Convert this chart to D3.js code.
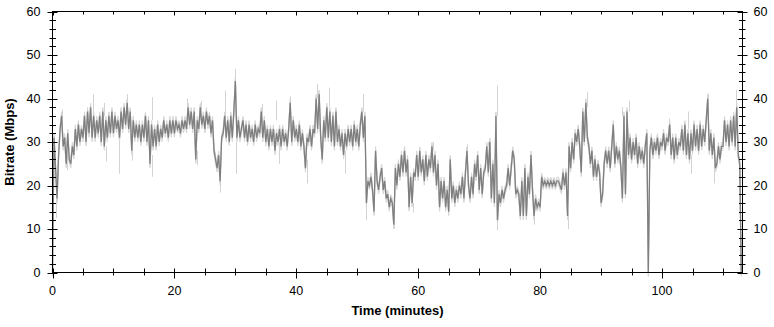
<!DOCTYPE html>
<html>
<head>
<meta charset="utf-8">
<script src="https://cdn.jsdelivr.net/npm/d3@7"></script>
<style>
  body { margin: 0; background: #fff; }
  text { font-family: "Liberation Sans", Arial, sans-serif; }
</style>
</head>
<body>
<svg id="chart" width="774" height="327"></svg>
<script>
// bitrate samples, one every 0.25 minute (Mbps), 4 per row = 1 minute
const STEP = 0.25;
const rate = [
  0, 31, 24, 17,   27, 33, 36, 29,   31, 25, 32, 26,   25, 29, 27, 33,
  29, 34, 30, 33,  31, 36, 30, 37,   32, 38, 31, 36,   31, 35, 32, 36,
  30, 37, 29, 35,  31, 36, 32, 37,   32, 36, 33, 35,   31, 37, 33, 38,
  34, 39, 33, 37,  28, 35, 31, 34,   31, 34, 30, 34,   31, 36, 30, 35,
  25, 34, 29, 33,  29, 34, 30, 33,   31, 35, 32, 34,   31, 35, 32, 35,
  32, 35, 33, 34,  32, 35, 33, 35,   33, 38, 34, 37,   33, 37, 26, 35,
  33, 38, 34, 36,  33, 37, 34, 36,   32, 35, 28, 26,   24, 27, 21, 31,
  32, 36, 31, 35,  30, 36, 31, 37,   44, 31, 35, 31,   33, 35, 31, 34,
  30, 34, 31, 33,  30, 34, 31, 33,   32, 37, 31, 35,   30, 33, 29, 33,
  30, 33, 28, 32,  30, 33, 29, 33,   30, 32, 29, 33,   39, 30, 35, 31,
  33, 30, 34, 29,  32, 29, 24, 31,   30, 33, 29, 33,   32, 40, 33, 41,
  31, 26, 35, 31,  38, 31, 37, 30,   36, 29, 37, 30,   33, 29, 32, 27,
  32, 29, 33, 30,  33, 29, 34, 30,   33, 29, 34, 37,   31, 36, 16, 21,
  20, 22, 19, 14,  28, 21, 19, 22,   24, 19, 21, 17,   18, 15, 17, 16,
  11, 24, 20, 25,  22, 27, 23, 28,   23, 26, 15, 22,   16, 23, 22, 27,
  22, 28, 23, 26,  21, 27, 22, 26,   24, 29, 23, 27,   20, 25, 15, 21,
  17, 21, 15, 19,  14, 26, 17, 20,   16, 19, 17, 20,   18, 22, 17, 23,
  28, 20, 17, 22,  18, 25, 22, 27,   19, 24, 18, 23,   24, 29, 23, 30,
  17, 25, 16, 36,  12, 18, 16, 19,   17, 19, 20, 24,   20, 24, 28, 26,
  18, 19, 18, 13,  21, 13, 24, 13,   22, 18, 27, 19,   13, 17, 15, 16,
  15, 22, 20, 21,  20, 21, 20, 21,   20, 21, 20, 21,   21, 20, 19, 23,
  20, 23, 13, 29,  24, 30, 26, 32,   30, 33, 29, 23,   37, 30, 39, 31,
  29, 25, 28, 22,  26, 22, 25, 23,   16, 18, 25, 28,   25, 28, 24, 29,
  34, 25, 29, 26,  28, 24, 17, 36,   18, 37, 27, 31,   26, 30, 27, 31,
  25, 29, 26, 28,  25, 29, 32, 0,    28, 31, 27, 30,   28, 31, 27, 30,
  29, 32, 28, 31,  30, 34, 27, 31,   26, 31, 27, 30,   29, 33, 28, 34,
  27, 32, 26, 32,  28, 34, 29, 33,   28, 34, 29, 33,   30, 35, 40, 28,
  32, 27, 31, 24,  25, 29, 26, 29,   29, 35, 30, 34,   29, 35, 30, 36,
  29, 38, 27, 25,  0
];

// short light-grey peaks around the mean trace
const spikeTime = [0.6, 1.5, 2.4, 6.7, 8.4, 8.7, 10.9, 12.3, 13.1, 16.4, 16.4, 22.1, 23.7, 24.3,
  27.5, 28.3, 30.0, 30.1, 34.4, 36.6, 37.1, 39.0, 41.7, 43.4, 45.3, 48.0, 50.9, 51.5, 56.1, 59.1,
  62.5, 68.0, 71.5, 72.9, 72.9, 79.0, 84.6, 87.7, 93.5, 94.5, 101.2, 104.3, 104.8, 107.5, 108.5, 112.2];
const spikeFrom = [20, 35, 27, 36, 36, 29, 30, 38, 29, 35, 27, 37, 28, 37,
  23, 35, 43, 30, 35, 35, 30, 38, 26, 40, 38, 28, 37, 17, 12, 16,
  28, 28, 29, 36, 12, 14, 14, 38, 36, 37, 33, 33, 27, 40, 25, 37];
const spikeTo = [12.5, 37.5, 23.5, 41, 39, 25.5, 22.7, 41, 25.7, 40.3, 22, 40, 24.6, 39.5,
  18.4, 41.8, 46.8, 22.7, 38.8, 39.5, 25, 40.5, 20.5, 43.4, 42.5, 22.7, 41, 12, 10, 13.8,
  30, 29.5, 30, 43, 9.7, 11, 10, 41.5, 38, 39.5, 35.4, 37, 22.7, 41.2, 20.5, 42];

const xMax = 113.2, yMax = 60;

const svg = d3.select("#chart");
const x = d3.scaleLinear().domain([0, xMax]).range([52.5, 742.5]);
const y = d3.scaleLinear().domain([0, yMax]).range([272.5, 11.5]);

const plot = svg.append("g");

// light grey halo: same trace nudged up and down
const line = d3.line().x((d, i) => x(i * STEP)).y(d => y(d));
[-4, 4, -2, 2].forEach(dy => {
  plot.append("path")
    .datum(rate)
    .attr("transform", "translate(0," + dy + ")")
    .attr("fill", "none")
    .attr("stroke", "#d6d6d6")
    .attr("stroke-width", 1)
    .attr("d", line);
});

plot.selectAll(".spike")
  .data(spikeTime)
  .enter().append("line")
  .attr("class", "spike")
  .attr("x1", d => Math.round(x(d)) + 0.5)
  .attr("x2", d => Math.round(x(d)) + 0.5)
  .attr("y1", (d, i) => y(spikeFrom[i]))
  .attr("y2", (d, i) => y(spikeTo[i]))
  .attr("stroke", "#d3d3d3")
  .attr("stroke-width", 1);

plot.append("path")
  .datum(rate)
  .attr("fill", "none")
  .attr("stroke", "#7f7f7f")
  .attr("stroke-width", 1.3)
  .attr("d", line);

// frame
const x0 = x(0), x1 = x(xMax), y0 = y(0), y1 = y(yMax);
svg.append("rect")
  .attr("x", x0).attr("y", y1)
  .attr("width", x1 - x0).attr("height", y0 - y1)
  .attr("fill", "none").attr("stroke", "#000").attr("stroke-width", 1);

const ticks = svg.append("g").attr("stroke", "#000").attr("stroke-width", 1);

// y ticks on both sides
d3.range(0, yMax + 1, 2).forEach(v => {
  const major = v % 10 === 0;
  const yy = Math.round(y(v)) + 0.5;
  const out = major ? 5 : 3, inn = major ? 5 : 3.5;
  ticks.append("line").attr("x1", x0 - out).attr("x2", x0 + inn).attr("y1", yy).attr("y2", yy);
  ticks.append("line").attr("x1", x1 - inn).attr("x2", x1 + out).attr("y1", yy).attr("y2", yy);
});

// x ticks, bottom and top
d3.range(0, xMax, 5).forEach(v => {
  const major = v % 20 === 0;
  const xx = Math.round(x(v)) + 0.5;
  ticks.append("line").attr("x1", xx).attr("x2", xx)
    .attr("y1", y0 - 4).attr("y2", y0 + (major ? 6 : 3));
  ticks.append("line").attr("x1", xx).attr("x2", xx)
    .attr("y1", y1).attr("y2", y1 + (major ? 4 : 3));
});

const labels = svg.append("g").attr("font-size", 12.5).attr("fill", "#000");

y.ticks(6).forEach(v => {
  labels.append("text").attr("x", x0 - 12).attr("y", y(v)).attr("dy", "0.35em")
    .attr("text-anchor", "end").text(v);
  labels.append("text").attr("x", x1 + 11).attr("y", y(v)).attr("dy", "0.35em")
    .attr("text-anchor", "start").text(v);
});

d3.range(0, xMax, 20).forEach(v => {
  labels.append("text").attr("x", x(v)).attr("y", 295)
    .attr("text-anchor", "middle").text(v);
});

svg.append("text")
  .attr("x", (x0 + x1) / 2).attr("y", 315)
  .attr("text-anchor", "middle").attr("font-size", 13).attr("font-weight", "bold")
  .text("Time (minutes)");

svg.append("text")
  .attr("transform", "translate(14," + (y0 + y1) / 2 + ") rotate(-90)")
  .attr("text-anchor", "middle").attr("font-size", 13).attr("font-weight", "bold")
  .text("Bitrate (Mbps)");
</script>
</body>
</html>
